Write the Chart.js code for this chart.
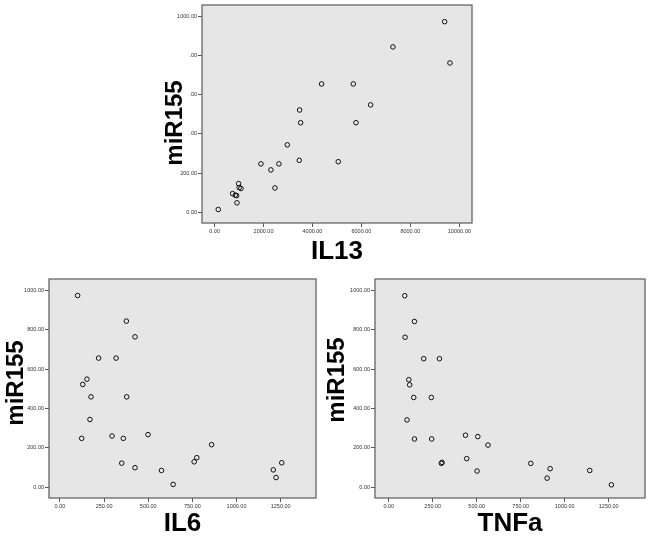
<!DOCTYPE html>
<html lang="en">
<head>
<meta charset="UTF-8">
<title>miR155 vs IL13 / IL6 / TNFa</title>
<script src="https://cdn.jsdelivr.net/npm/chart.js"></script>
<style>
  body { margin: 0; background: white; width: 650px; height: 544px; position: relative; overflow: hidden; }
  canvas { position: absolute; }
</style>
</head>
<body>
<canvas id="il13Chart" width="340" height="270" style="left:140px;top:0"></canvas>
<canvas id="il6Chart" width="325" height="272" style="left:0;top:272px"></canvas>
<canvas id="tnfaChart" width="325" height="272" style="left:325px;top:272px"></canvas>
<script>
// values
const il13 = [150, 9401, 7289, 9619, 4373, 5668, 6376, 3474, 3515, 5777, 2970, 1894, 2629, 3460, 5054, 2302, 2466, 981, 1008, 1076, 736, 845, 899, 913];
const mirVsIl13 = [14, 973, 844, 762, 655, 655, 548, 522, 457, 457, 344, 247, 247, 265, 258, 216, 124, 146, 126, 121, 95, 87, 85, 48];

const il6 = [100, 376, 425, 219, 318, 153, 129, 176, 378, 170, 123, 295, 359, 499, 859, 350, 425, 575, 641, 760, 775, 1208, 1224, 1256];
const mirVsIl6 = [974, 844, 764, 656, 656, 549, 522, 459, 459, 344, 248, 260, 248, 267, 216, 122, 99, 85, 14, 129, 150, 88, 49, 124];

const tnfa = [91, 146, 93, 199, 288, 114, 119, 142, 242, 104, 146, 244, 299, 303, 436, 506, 564, 443, 502, 807, 917, 900, 1142, 1265];
const mirVsTnfa = [973, 842, 762, 653, 653, 546, 520, 456, 456, 342, 245, 245, 121, 126, 264, 257, 214, 145, 82, 121, 94, 46, 85, 12];

const yTicks = [0, 200, 400, 600, 800, 1000];
const xTicksIl13 = [0, 2000, 4000, 6000, 8000, 10000];
const xTicksCyto = [0, 250, 500, 750, 1000, 1250];

const FONT = "'Liberation Sans', Arial, sans-serif";

// gray panel with frame, plus the rotated y title (with a white patch behind it)
const panelPlugin = {
  id: 'panel',
  beforeDraw(chart) {
    const { ctx, chartArea: a } = chart;
    ctx.save();
    ctx.fillStyle = '#fff';
    ctx.fillRect(0, 0, chart.width, chart.height);
    ctx.fillStyle = '#e6e6e6';
    ctx.fillRect(a.left, a.top, a.right - a.left, a.bottom - a.top);
    ctx.restore();
  },
  afterDraw(chart, args, opts) {
    const { ctx, chartArea: a } = chart;
    ctx.save();
    ctx.strokeStyle = '#666';
    ctx.lineWidth = 1.3;
    ctx.strokeRect(a.left, a.top, a.right - a.left, a.bottom - a.top);
    if (opts.cover) {
      ctx.fillStyle = '#fff';
      ctx.fillRect(opts.cover[0], opts.cover[1], opts.cover[2], opts.cover[3]);
    }
    ctx.translate(opts.x, opts.y);
    ctx.rotate(-Math.PI / 2);
    ctx.fillStyle = '#000';
    ctx.font = 'bold 24px ' + FONT;
    ctx.textAlign = 'center';
    ctx.textBaseline = 'middle';
    ctx.fillText(opts.text, 0, 0);
    ctx.restore();
  }
};

function axisTicks(list) {
  return (scale) => { scale.ticks = list.map((v) => ({ value: v })); };
}

function makeChart(id, xs, ys, xTicks, xMin, xMax, xTitle, lay) {
  const points = xs.map((x, i) => ({ x: x, y: ys[i] }));
  return new Chart(document.getElementById(id), {
    type: 'scatter',
    data: {
      datasets: [{
        data: points,
        pointRadius: 2.3,
        pointBorderWidth: 1,
        pointBorderColor: '#111',
        pointBackgroundColor: 'rgba(0,0,0,0)',
        pointHoverRadius: 2.3
      }]
    },
    options: {
      responsive: false,
      animation: false,
      layout: { padding: { top: lay.padTop, right: lay.padRight, left: 0, bottom: 0 } },
      plugins: {
        legend: { display: false },
        tooltip: { enabled: false },
        panel: { text: 'miR155', x: lay.yTitleX, y: lay.yTitleY, cover: lay.cover || null }
      },
      scales: {
        x: {
          type: 'linear',
          min: xMin,
          max: xMax,
          afterBuildTicks: axisTicks(xTicks),
          afterFit: (s) => { s.height = lay.xHeight; },
          grid: { drawOnChartArea: false, tickLength: 4, tickColor: '#555' },
          border: { display: false },
          ticks: {
            font: { family: FONT, size: 5.5 },
            color: '#333',
            padding: 1,
            maxRotation: 0,
            autoSkip: false,
            callback: (v) => Number(v).toFixed(2)
          },
          title: {
            display: true,
            text: xTitle,
            color: '#000',
            font: { family: FONT, size: 26, weight: 'bold', lineHeight: 1 },
            padding: { top: 0, bottom: lay.titlePad }
          }
        },
        y: {
          type: 'linear',
          min: -55,
          max: 1058,
          afterBuildTicks: axisTicks(yTicks),
          afterFit: (s) => { s.width = lay.yWidth; },
          grid: { drawOnChartArea: false, tickLength: 4, tickColor: '#555' },
          border: { display: false },
          ticks: {
            font: { family: FONT, size: 5.5 },
            color: '#333',
            padding: 1,
            autoSkip: false,
            callback: (v) => Number(v).toFixed(2)
          }
        }
      }
    },
    plugins: [panelPlugin]
  });
}

makeChart('il13Chart', il13, mirVsIl13, xTicksIl13, -515, 10520, 'IL13',
  { yWidth: 62, xHeight: 47, padTop: 5, padRight: 8, titlePad: 5, yTitleX: 35.5, yTitleY: 123, cover: [20, 30, 29, 141] });

makeChart('il6Chart', il6, mirVsIl6, xTicksCyto, -62, 1450, 'IL6',
  { yWidth: 49, xHeight: 46, padTop: 7, padRight: 9, titlePad: 7, yTitleX: 16.5, yTitleY: 111 });

makeChart('tnfaChart', tnfa, mirVsTnfa, xTicksCyto, -78, 1456, 'TNFa',
  { yWidth: 50, xHeight: 46, padTop: 7, padRight: 5, titlePad: 7, yTitleX: 12, yTitleY: 108 });
</script>
</body>
</html>
